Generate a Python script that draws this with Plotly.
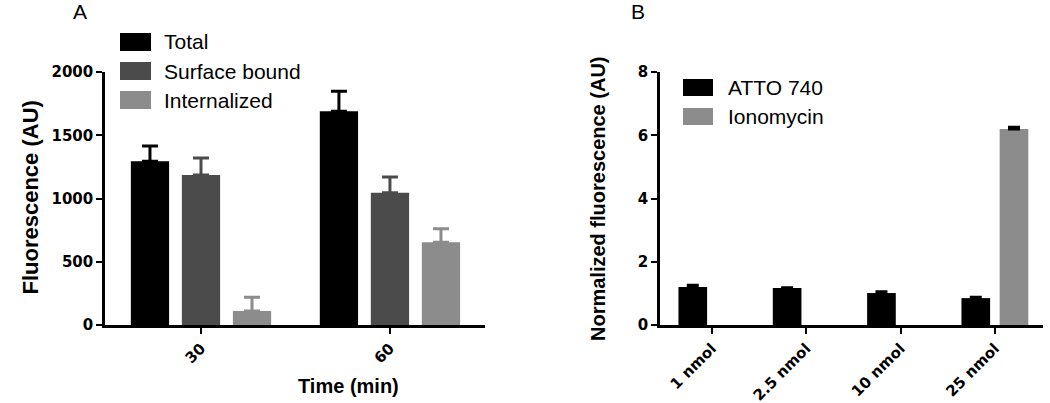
import plotly.graph_objects as go

# panel A data
times = ["30", "60"]
total = [1295, 1690]
total_err = [120, 158]
surface = [1185, 1045]
surface_err = [135, 125]
internal = [110, 655]
internal_err = [110, 105]

# panel B data
doses = ["1 nmol", "2.5 nmol", "10 nmol", "25 nmol"]
atto = [1.20, 1.17, 1.01, 0.85]
atto_err = [0.06, 0.01, 0.04, 0.03]
iono = [None, None, None, 6.2]
iono_err = [0, 0, 0, 0.05]

W, H = 1050, 403
BLACK = "#000000"
DARK = "#4b4b4b"
LIGHT = "#8c8c8c"
TICK_FONT = dict(family="DejaVu Sans", size=15, color="black", weight="bold")
TXT = "Arial, Liberation Sans"


def px(x):
    return x / W


def py(y):
    return 1 - y / H


def bar(x, y, err, color, ecolor, xa, ya, cap, name):
    return go.Bar(x=x, y=y, name=name, marker_color=color, marker_line_width=0,
                  error_y=dict(type="data", array=err, symmetric=False,
                               arrayminus=[0] * len(err), color=ecolor,
                               thickness=3, width=cap),
                  xaxis=xa, yaxis=ya, showlegend=False)


fig = go.Figure()
fig.add_trace(bar(times, total, total_err, BLACK, BLACK, "x", "y", 8, "Total"))
fig.add_trace(bar(times, surface, surface_err, DARK, DARK, "x", "y", 8, "Surface bound"))
fig.add_trace(bar(times, internal, internal_err, LIGHT, LIGHT, "x", "y", 8, "Internalized"))
fig.add_trace(bar(doses, atto, atto_err, BLACK, BLACK, "x2", "y2", 6, "ATTO 740"))
fig.add_trace(bar(doses, iono, iono_err, LIGHT, BLACK, "x2", "y2", 6, "Ionomycin"))

ydom = [py(325), py(72)]
axis_common = dict(showline=True, linecolor="black", linewidth=2.5, ticks="outside",
                   ticklen=6, tickwidth=2, tickcolor="black", showgrid=False,
                   zeroline=False, tickfont=TICK_FONT, automargin=False)

fig.update_layout(
    width=W, height=H, margin=dict(l=0, r=0, t=0, b=0, autoexpand=False),
    paper_bgcolor="white", plot_bgcolor="white",
    barmode="group", bargap=0.19, bargroupgap=0.25,
    xaxis=dict(domain=[px(105), px(485)], type="category", range=[-0.508, 1.503],
               tickangle=-45, anchor="y", **axis_common),
    yaxis=dict(domain=ydom, range=[0, 2000], tickvals=[0, 500, 1000, 1500, 2000],
               anchor="x", **axis_common),
    xaxis2=dict(domain=[px(660), px(1043)], type="category", range=[-0.55, 3.51],
                tickangle=-45, anchor="y2", **axis_common),
    yaxis2=dict(domain=ydom, range=[0, 8], tickvals=[0, 2, 4, 6, 8],
                anchor="x2", **axis_common),
)

shapes = []
annotations = []


def note(text, x, y, font, **kw):
    return dict(text=text, x=px(x), y=py(y), xref="paper", yref="paper",
                yanchor="middle", showarrow=False, font=font, **kw)


legend_font = dict(family=TXT, size=21, color="black")

# legends drawn by hand so the swatches match the reference size
legend_a = [("Total", BLACK, 42), ("Surface bound", DARK, 71), ("Internalized", LIGHT, 100)]
for label, color, yc in legend_a:
    shapes.append(dict(type="rect", xref="paper", yref="paper", x0=px(120), x1=px(151),
                       y0=py(yc + 9), y1=py(yc - 9), fillcolor=color, line_width=0))
    annotations.append(note(label, 162, yc, legend_font, xanchor="left"))

legend_b = [("ATTO 740", BLACK, 87.5), ("Ionomycin", LIGHT, 116.5)]
for label, color, yc in legend_b:
    shapes.append(dict(type="rect", xref="paper", yref="paper", x0=px(683), x1=px(713),
                       y0=py(yc + 8.5), y1=py(yc - 8.5), fillcolor=color, line_width=0))
    annotations.append(note(label, 726, yc, legend_font, xanchor="left"))

annotations += [
    note("A", 71, 11, dict(family=TXT, size=21, color="black")),
    note("B", 638, 11, dict(family=TXT, size=21, color="black")),
    note("Fluorescence (AU)", 15, 198,
         dict(family=TXT, size=22, color="black", weight="bold"), textangle=-90),
    note("Normalized fluorescence (AU)", 598, 199,
         dict(family=TXT, size=20, color="black", weight="bold"), textangle=-90),
    note("Time (min)", 296, 386, dict(family=TXT, size=20, color="black", weight="bold")),
]

fig.update_layout(shapes=shapes, annotations=annotations)
# the page body has a default 8px margin; drop it so the figure fills the window
fig.write_html("out.html", config={"displayModeBar": False},
               post_script="document.body.style.margin = '0px';")
